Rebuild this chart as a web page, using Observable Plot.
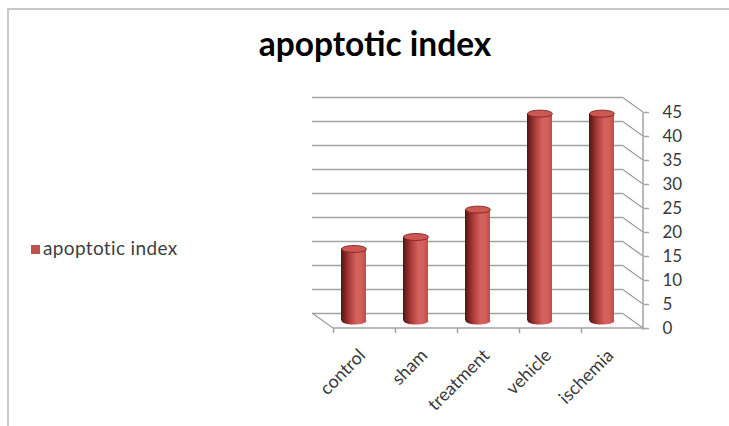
<!DOCTYPE html>
<html>
<head>
<meta charset="utf-8">
<script src="https://cdn.jsdelivr.net/npm/d3@7"></script>
<script src="https://cdn.jsdelivr.net/npm/@observablehq/plot@0.6"></script>
<style>
  html, body { margin: 0; padding: 0; background: #fff; }
  #wrap { position: relative; width: 729px; height: 426px; overflow: hidden; font-family: Lato, "Open Sans", sans-serif; }
  #border { position: absolute; left: 7px; top: 8px; width: 740px; height: 430px; border-top: 2px solid #c8c8c8; border-left: 2px solid #c8c8c8; }
  #chart { position: absolute; left: 0; top: 0; }
  #title { position: absolute; left: 375px; top: 27px; transform: translateX(-50%); font-weight: 700; font-size: 33.5px; line-height: 1; color: #000; white-space: nowrap; }
  #legend { position: absolute; left: 31px; top: 238px; font-size: 19px; letter-spacing: 0.35px; line-height: 1; color: #404040; white-space: nowrap; display: flex; align-items: center; }
  #legend .sw { display: inline-block; width: 9px; height: 9px; background: #c0504d; margin-right: 3px; margin-top: 4px; }
</style>
</head>
<body>
<div id="wrap">
  <div id="border"></div>
  <div id="chart"></div>
  <div id="title"></div>
  <div id="legend"><span class="sw"></span><span id="legtext"></span></div>
</div>
<script>
// ---- data ----
const chartTitle = "apoptotic index";
const seriesName = "apoptotic index";
const categories = ["control", "sham", "treatment", "vehicle", "ischemia"];
const values = [15.0, 17.5, 23.2, 43.2, 43.2];
const yTicks = [0, 5, 10, 15, 20, 25, 30, 35, 40, 45];

const data = categories.map((c, i) => ({cat: c, value: values[i]}));

document.getElementById("title").textContent = chartTitle;
document.getElementById("legtext").textContent = seriesName;

// 3D depth offsets (half depth) in pixels
const D = 10.5, E = 7.5;
const gridColor = "#a3a3a3";

// ellipse symbol for cylinder caps
const ellipseSymbol = {
  draw(ctx, size) {
    const rx = Math.sqrt(size / Math.PI), ry = rx * 0.28, k = 0.5523;
    ctx.moveTo(-rx, 0);
    ctx.bezierCurveTo(-rx, -ry * k, -rx * k, -ry, 0, -ry);
    ctx.bezierCurveTo(rx * k, -ry, rx, -ry * k, rx, 0);
    ctx.bezierCurveTo(rx, ry * k, rx * k, ry, 0, ry);
    ctx.bezierCurveTo(-rx * k, ry, -rx, ry * k, -rx, 0);
    ctx.closePath();
  }
};

// 3D frame: floor edges, side diagonals, right axis line
function frame3D(index, scales, values, dims) {
  const ns = "http://www.w3.org/2000/svg";
  const g = document.createElementNS(ns, "g");
  if (!scales || !scales.y) return g;
  const y = scales.y;
  const left = dims.marginLeft, right = dims.width - dims.marginRight;
  let d = "";
  d += `M${left - D},${y(0) - E}L${left + D},${y(0) + E}`;
  d += `M${left + D},${y(0) + E}L${right + D},${y(0) + E}`;
  for (const t of yTicks) d += `M${right - D},${y(t) - E}L${right + D},${y(t) + E}`;
  d += `M${right + D},${y(yTicks[yTicks.length - 1]) + E}L${right + D},${y(0) + E + 2}`;
  const p = document.createElementNS(ns, "path");
  p.setAttribute("d", d);
  p.setAttribute("fill", "none");
  p.setAttribute("stroke", gridColor);
  p.setAttribute("stroke-width", 1.5);
  g.appendChild(p);
  return g;
}

const chart = Plot.plot({
  width: 729,
  height: 426,
  marginLeft: 322.5,
  marginRight: 96.5,
  marginTop: 104.5,
  marginBottom: 105.5,
  style: {background: "transparent", fontFamily: "Lato, 'Open Sans', sans-serif", color: "#3a3a3a", overflow: "visible"},
  x: {domain: categories, paddingInner: 0.6, paddingOuter: 0.3, axis: null},
  y: {domain: [0, 45], axis: null},
  marks: [
    Plot.ruleY(yTicks, {dx: -D, dy: -E, stroke: gridColor, strokeWidth: 1.5}),
    frame3D,
    Plot.ruleX(categories, {x: d => d, y1: 0, y2: -1.05, dx: -31 + D, dy: E, stroke: gridColor, strokeWidth: 1.5}),
    Plot.axisY({ticks: yTicks, anchor: "right", label: null, tickSize: 5, tickPadding: 14, dx: D, dy: E, fontSize: 17, stroke: gridColor, strokeWidth: 1.5}),
    Plot.axisX({anchor: "bottom", label: null, tickSize: 0, tickPadding: 0, tickRotate: -45, dx: 8.5, dy: 31.5, fontSize: 18}),
    Plot.dot(data, {x: "cat", y: 0, symbol: ellipseSymbol, r: 12.4, fill: "url(#cylGrad)", stroke: "none"}),
    Plot.barY(data, {x: "cat", y: "value", fill: "url(#cylGrad)"}),
    Plot.dot(data, {x: "cat", y: "value", symbol: ellipseSymbol, r: 12.4, fill: "#cc5753", stroke: "#7e2523", strokeWidth: 0.9})
  ]
});

// gradient definitions for the cylinder shading
const ns = "http://www.w3.org/2000/svg";
const defs = document.createElementNS(ns, "defs");
const grad = document.createElementNS(ns, "linearGradient");
grad.setAttribute("id", "cylGrad");
grad.setAttribute("x1", "0"); grad.setAttribute("x2", "1");
grad.setAttribute("y1", "0"); grad.setAttribute("y2", "0");
[[0, "#4c1413"], [0.12, "#76211f"], [0.35, "#b03f3c"], [0.62, "#d4625e"], [0.8, "#d3605c"], [1, "#bf4d49"]].forEach(([o, c]) => {
  const s = document.createElementNS(ns, "stop");
  s.setAttribute("offset", o);
  s.setAttribute("stop-color", c);
  grad.appendChild(s);
});
defs.appendChild(grad);
chart.insertBefore(defs, chart.firstChild);

document.getElementById("chart").appendChild(chart);
</script>
</body>
</html>
